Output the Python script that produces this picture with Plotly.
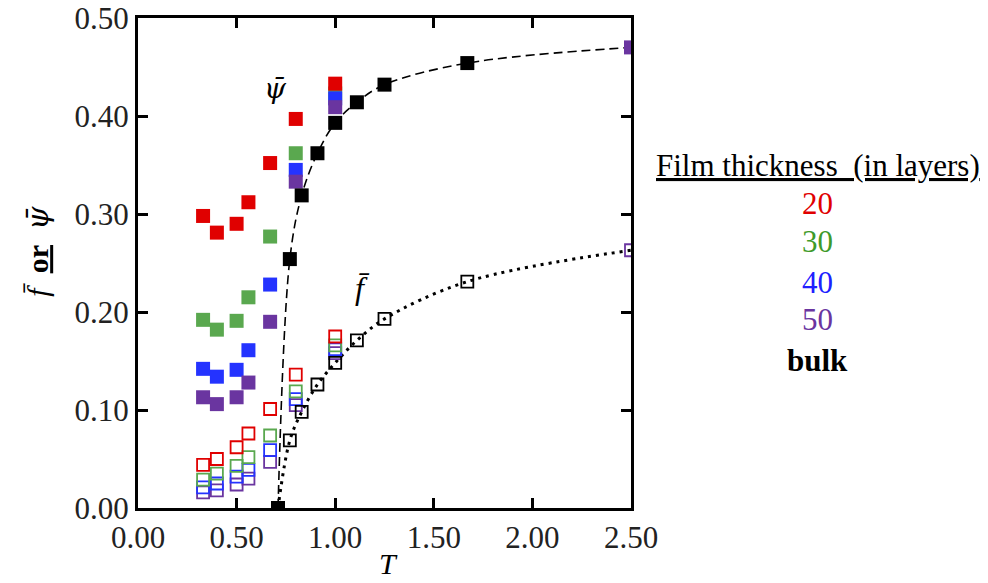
import plotly.graph_objects as go

# ---------------- data ----------------
T_film = [0.33, 0.40, 0.50, 0.56, 0.67, 0.80, 1.00]

psi_20 = [0.298, 0.281, 0.290, 0.312, 0.352, 0.397, 0.433]
psi_30 = [0.192, 0.182, 0.191, 0.215, 0.277, 0.362, 0.423]
psi_40 = [0.142, 0.134, 0.141, 0.161, 0.228, 0.345, 0.418]
psi_50 = [0.113, 0.106, 0.113, 0.128, 0.190, 0.333, 0.409]

f_20 = [0.044, 0.050, 0.062, 0.076, 0.101, 0.136, 0.175]
f_30 = [0.029, 0.035, 0.043, 0.052, 0.074, 0.119, 0.166]
f_40 = [0.021, 0.025, 0.032, 0.039, 0.059, 0.111, 0.162]
f_50 = [0.016, 0.018, 0.024, 0.030, 0.047, 0.105, 0.158]

T_bulk = [0.71, 0.77, 0.83, 0.91, 1.00, 1.11, 1.25, 1.67, 2.50]
psi_bulk = [0.000, 0.254, 0.319, 0.362, 0.393, 0.414, 0.432, 0.454, 0.470]
f_bulk = [0.000, 0.069, 0.098, 0.126, 0.148, 0.171, 0.193, 0.231, 0.263]

x_ticks = [0.0, 0.5, 1.0, 1.5, 2.0, 2.5]
y_ticks = [0.0, 0.1, 0.2, 0.3, 0.4, 0.5]

series_labels = ["20", "30", "40", "50"]
series_colors = ["#e00000", "#5aa84f", "#2433ff", "#6a35a0"]
label_colors = ["#e00000", "#3f9a2a", "#2020ff", "#6a35a0"]

FONT = "Liberation Serif"
PSI = '<span style="font-family:\'DejaVu Serif\'"><i>ψ̄</i></span>'

fig = go.Figure()

# bulk curves (fits)
fig.add_trace(go.Scatter(x=T_bulk, y=psi_bulk, mode="lines",
                         line=dict(color="black", width=1.6, dash="9px,5px", shape="spline"),
                         showlegend=False, hoverinfo="skip"))
fig.add_trace(go.Scatter(x=T_bulk, y=f_bulk, mode="lines",
                         line=dict(color="black", width=3, dash="3px,5px", shape="spline"),
                         showlegend=False, hoverinfo="skip"))

psi_sets = {"20": psi_20, "30": psi_30, "40": psi_40, "50": psi_50}
f_sets = {"20": f_20, "30": f_30, "40": f_40, "50": f_50}
col = dict(zip(series_labels, series_colors))

# open symbols (f)
for lab in ["50", "40", "30", "20"]:
    fig.add_trace(go.Scatter(x=T_film, y=f_sets[lab], mode="markers",
                             marker=dict(symbol="square-open", size=12, color=col[lab],
                                         line=dict(width=1.8, color=col[lab])),
                             name=lab, showlegend=False))
# filled symbols (psi)
for lab in ["30", "40", "50", "20"]:
    fig.add_trace(go.Scatter(x=T_film, y=psi_sets[lab], mode="markers",
                             marker=dict(symbol="square", size=14, color=col[lab]),
                             name=lab, showlegend=False))

# bulk markers
open_cols = ["black"] * (len(T_bulk) - 1) + [series_colors[3]]
fig.add_trace(go.Scatter(x=T_bulk[1:], y=f_bulk[1:], mode="markers",
                         marker=dict(symbol="square-open", size=12, color=open_cols[1:],
                                     line=dict(width=1.8, color=open_cols[1:])),
                         showlegend=False))
fill_cols = ["black"] * (len(T_bulk) - 1) + [series_colors[3]]
fig.add_trace(go.Scatter(x=T_bulk, y=psi_bulk, mode="markers",
                         marker=dict(symbol="square", size=14, color=fill_cols),
                         showlegend=False))

axis_common = dict(showline=True, linewidth=3, linecolor="black", mirror="ticks",
                   ticks="inside", ticklen=10, tickwidth=2.5, tickcolor="black",
                   showgrid=False, zeroline=False, tickformat=".2f", automargin=False,
                   tickfont=dict(family=FONT, size=31, color="#222"))

fig.update_xaxes(range=[0, 2.5], tickvals=x_ticks, **axis_common)
fig.update_yaxes(range=[0, 0.5], tickvals=y_ticks, **axis_common)

ann = []
ann.append(dict(x=0.695, y=0.428, xref="x", yref="y", text=PSI, showarrow=False,
                font=dict(family=FONT, size=28, color="black")))
ann.append(dict(x=1.135, y=0.225, xref="x", yref="y", text="<i>f̄</i>", showarrow=False,
                font=dict(family=FONT, size=32, color="black")))
ann.append(dict(x=-0.203, y=0.525, xref="paper", yref="paper", textangle=-90,
                text="<i>f̄</i>  <b><u>or</u></b>  " + PSI, showarrow=False,
                xanchor="center", yanchor="middle",
                font=dict(family=FONT, size=30, color="black")))
ann.append(dict(x=1.27, y=-0.114, xref="x", yref="paper", text="<i>T</i>", showarrow=False,
                xanchor="center", yanchor="middle",
                font=dict(family=FONT, size=30, color="black")))

lx = 1.379
ann.append(dict(x=lx, y=0.700, xref="paper", yref="paper", text="<u>Film thickness  (in layers)</u>",
                showarrow=False, xanchor="center", yanchor="middle",
                font=dict(family=FONT, size=31, color="black")))
ys = [0.622, 0.543, 0.461, 0.384]
for lab, c, yy in zip(series_labels, label_colors, ys):
    ann.append(dict(x=lx, y=yy, xref="paper", yref="paper", text=lab, showarrow=False,
                    xanchor="center", yanchor="middle",
                    font=dict(family=FONT, size=31, color=c)))
ann.append(dict(x=lx, y=0.302, xref="paper", yref="paper", text="<b>bulk</b>", showarrow=False,
                xanchor="center", yanchor="middle",
                font=dict(family=FONT, size=31, color="black")))

fig.update_layout(width=988, height=583, margin=dict(l=138, r=357, t=18, b=75),
                  paper_bgcolor="white", plot_bgcolor="white", annotations=ann,
                  showlegend=False)

fig.write_html("out.html")
